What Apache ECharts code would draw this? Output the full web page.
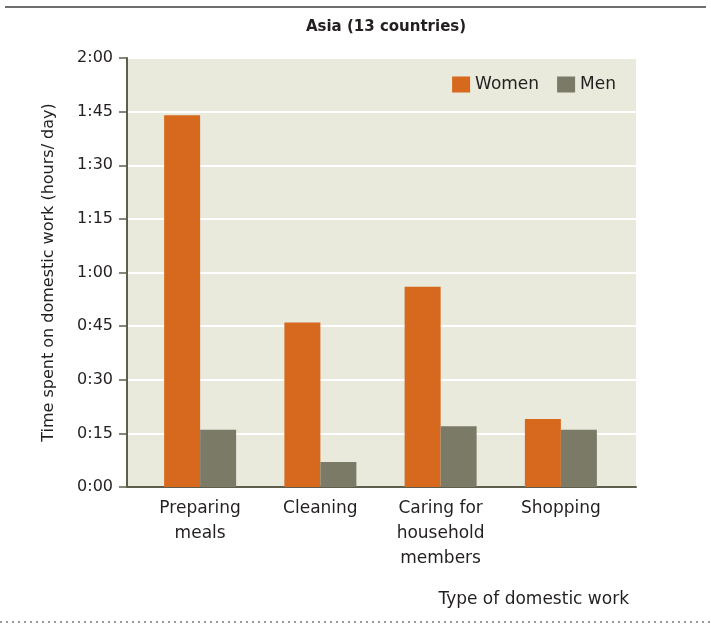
<!DOCTYPE html>
<html>
<head>
<meta charset="utf-8">
<script src="https://cdn.jsdelivr.net/npm/echarts@6/dist/echarts.min.js"></script>
<style>
  html, body { margin: 0; padding: 0; background: #fff; }
  #main { width: 711px; height: 625px; }
</style>
</head>
<body>
<div id="main"></div>
<script>
// minutes per day, Asia (13 countries)
var categories = ['Preparing\nmeals', 'Cleaning', 'Caring for\nhousehold\nmembers', 'Shopping'];
var women = [104, 46, 56, 19];
var men = [16, 7, 17, 16];
var yTicks = [0, 15, 30, 45, 60, 75, 90, 105, 120];

var font = 'DejaVu Sans';
var textCol = '#231f20';
var axisCol = '#5e5e4c';

function hm(v) {
  var h = Math.floor(v / 60), m = v % 60;
  return h + ':' + (m < 10 ? '0' + m : m);
}

var chart = echarts.init(document.getElementById('main'));
chart.setOption({
  animation: false,
  backgroundColor: '#fff',
  title: [
    {
      text: 'Asia (13 countries)',
      left: 381, top: 15, textAlign: 'center',
      textStyle: { fontFamily: font, fontSize: 15, fontWeight: 'bold', color: textCol }
    },
    {
      text: 'Type of domestic work',
      right: 77, top: 586,
      textStyle: { fontFamily: font, fontSize: 17, fontWeight: 'normal', color: textCol }
    }
  ],
  legend: {
    right: 90, top: 71,
    itemWidth: 18, itemHeight: 16, itemGap: 18,
    icon: 'rect',
    textStyle: { fontFamily: font, fontSize: 17, color: textCol },
    data: ['Women', 'Men']
  },
  grid: [
    { left: 127, right: 75, top: 58, bottom: 138, show: true, backgroundColor: '#e9e9dc', borderWidth: 0 },
    { left: 140, right: 90, top: 58, bottom: 138 }
  ],
  xAxis: [
    {
      gridIndex: 0, type: 'category', data: categories,
      axisLine: { lineStyle: { color: axisCol, width: 2 } },
      axisTick: { show: false }, axisLabel: { show: false }
    },
    {
      gridIndex: 1, type: 'category', data: categories,
      axisLine: { show: false }, axisTick: { show: false },
      axisLabel: { margin: 9, fontFamily: font, fontSize: 17, lineHeight: 25, color: textCol, interval: 0 }
    }
  ],
  yAxis: [
    {
      gridIndex: 0, type: 'value', min: 0, max: 120, interval: 15,
      name: 'Time spent on domestic work (hours/ day)',
      nameLocation: 'middle', nameGap: 70, nameRotate: 90,
      nameTextStyle: { fontFamily: font, fontSize: 16, color: textCol },
      axisLine: { show: true, lineStyle: { color: axisCol, width: 2 } },
      axisTick: { show: true, length: 8, lineStyle: { color: axisCol, width: 1.5 } },
      axisLabel: {
        margin: 14, fontFamily: font, fontSize: 16, color: textCol,
        formatter: function (v) { return yTicks.indexOf(v) >= 0 ? hm(v) : ''; }
      },
      splitLine: { lineStyle: { color: '#ffffff', width: 2 } }
    },
    {
      gridIndex: 1, type: 'value', min: 0, max: 120, interval: 15,
      axisLine: { show: false }, axisTick: { show: false },
      axisLabel: { show: false }, splitLine: { show: false }
    }
  ],
  series: [
    {
      name: 'Women', type: 'bar', xAxisIndex: 1, yAxisIndex: 1,
      data: women, barWidth: 36, barGap: '0%',
      itemStyle: { color: '#d7691e' }
    },
    {
      name: 'Men', type: 'bar', xAxisIndex: 1, yAxisIndex: 1,
      data: men, barWidth: 36, barGap: '0%',
      itemStyle: { color: '#7a7a67' }
    }
  ],
  graphic: [
    { type: 'line', shape: { x1: 5, y1: 7, x2: 706, y2: 7 }, style: { stroke: '#6e6e6e', lineWidth: 2 } },
    { type: 'line', shape: { x1: 0, y1: 622, x2: 711, y2: 622 }, style: { stroke: '#9a9a9a', lineWidth: 2, lineDash: [2, 4] } }
  ]
});
</script>
</body>
</html>
